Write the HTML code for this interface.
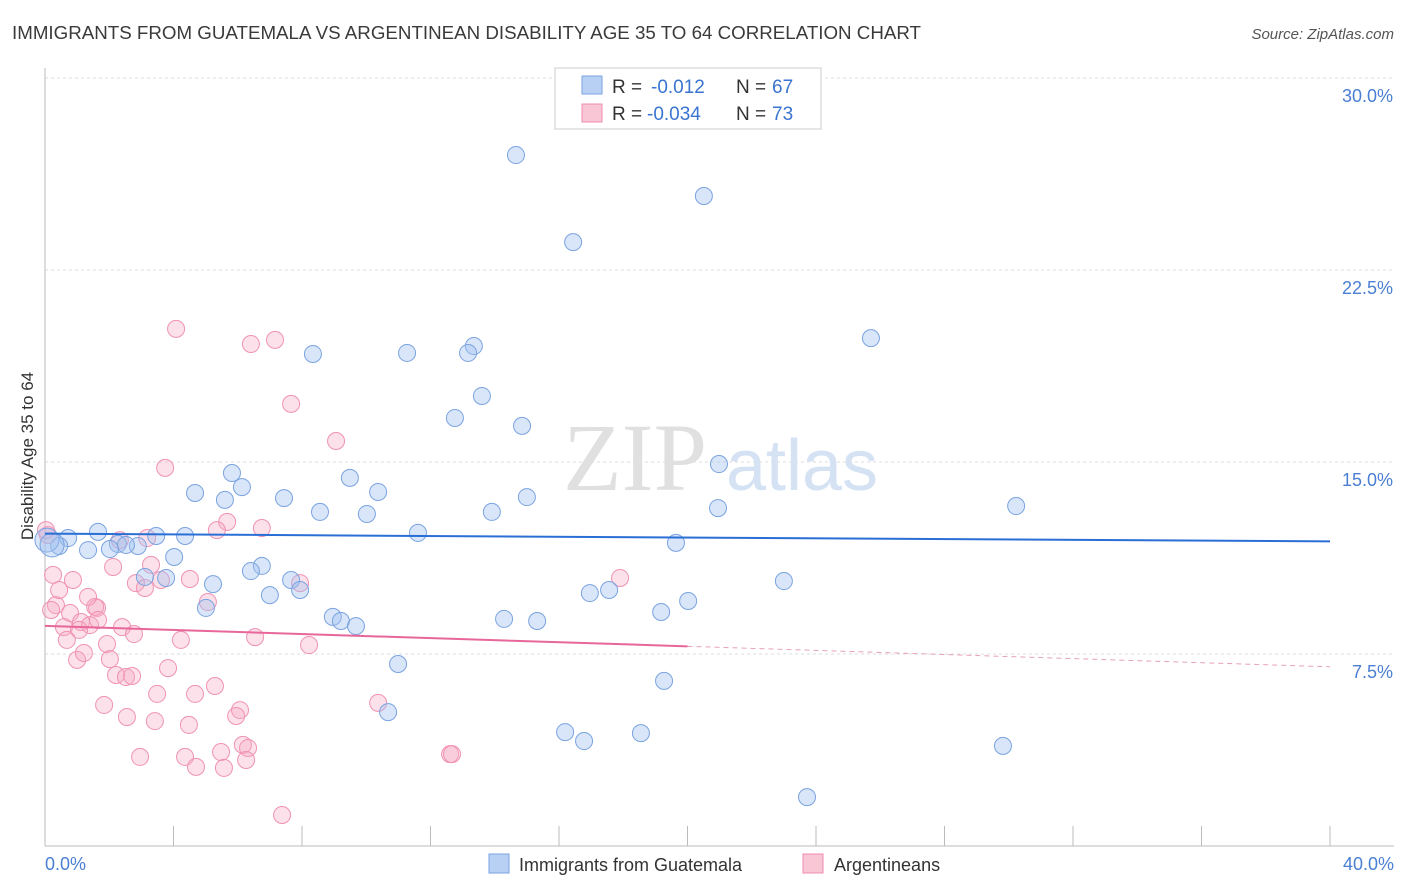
<!DOCTYPE html>
<html><head><meta charset="utf-8"><style>
body{margin:0;background:#fff;font-family:"Liberation Sans",sans-serif}
svg{display:block}
</style></head><body>
<svg id="chart" width="1406" height="892" viewBox="0 0 1406 892">
<text x="12" y="39" font-size="18" fill="#3a3a3a" textLength="909" lengthAdjust="spacingAndGlyphs">IMMIGRANTS FROM GUATEMALA VS ARGENTINEAN DISABILITY AGE 35 TO 64 CORRELATION CHART</text>
<text x="1394" y="39" font-size="15" fill="#555" text-anchor="end" font-style="italic">Source: ZipAtlas.com</text>
<g id="grid"></g>
<g><text x="635" y="490" font-size="96" fill="#e0e0e0" font-family="Liberation Serif,serif" text-anchor="middle">ZIP</text><text x="802" y="490" font-size="72" fill="#d4e2f4" text-anchor="middle">atlas</text></g>
<line x1="45" y1="846" x2="1394" y2="846" stroke="#bbb"/>
<line x1="45" y1="68" x2="45" y2="846" stroke="#bbb"/>
<text transform="translate(33,456) rotate(-90)" font-size="17" fill="#333" text-anchor="middle">Disability Age 35 to 64</text>
<text x="45" y="870" font-size="18" fill="#4a7fd4">0.0%</text>
<text x="1394" y="870" font-size="18" fill="#4a7fd4" text-anchor="end">40.0%</text>
<g id="pts"></g>
<g id="trends"></g>
<g>
<rect x="555" y="68" width="266" height="61" fill="#fff" stroke="#ccc"/>
<rect x="582" y="76" width="20" height="18" fill="#b8d0f4" stroke="#7aa3e0"/>
<rect x="582" y="104" width="20" height="18" fill="#f9c6d6" stroke="#f08cb0"/>
<text x="612" y="93" font-size="19" fill="#333">R = </text><text x="651" y="93" font-size="19" fill="#3a74d0">-0.012</text>
<text x="736" y="93" font-size="19" fill="#333">N = </text><text x="772" y="93" font-size="19" fill="#3a74d0">67</text>
<text x="612" y="120" font-size="19" fill="#333">R = </text><text x="647" y="120" font-size="19" fill="#3a74d0">-0.034</text>
<text x="736" y="120" font-size="19" fill="#333">N = </text><text x="772" y="120" font-size="19" fill="#3a74d0">73</text>
</g>
<g>
<rect x="489" y="854" width="20" height="19" fill="#b8d0f4" stroke="#7aa3e0"/>
<text x="519" y="871" font-size="18" fill="#333">Immigrants from Guatemala</text>
<rect x="803" y="854" width="20" height="19" fill="#f9c6d6" stroke="#f08cb0"/>
<text x="834" y="871" font-size="18" fill="#333">Argentineans</text>
</g>
</svg>
<script>
const yTicks=[7.5,15,22.5,30];
const xTicks=[0,4,8,12,16,20,24,28,32,36,40];
const bluePx=[[516,155],[704,196],[573,242],[871,338],[474,346],[468,353],[407,353],[313,354],[482,396],[455,418],[522,426],[719,464],[232,473],[350,478],[242,487],[195,493],[378,492],[284,498],[225,500],[527,497],[1016,506],[320,512],[492,512],[718,508],[367,514],[98,532],[185,536],[156,536],[418,533],[68,538],[676,543],[118,544],[138,546],[126,545],[110,549],[59,546],[88,550],[174,557],[262,566],[251,571],[145,577],[166,578],[291,580],[300,590],[213,584],[784,581],[270,595],[609,590],[590,593],[688,601],[661,612],[206,608],[333,617],[341,621],[356,626],[504,619],[537,621],[398,664],[664,681],[388,712],[565,732],[584,741],[641,733],[1003,746],[807,797],[47,540],[52,545]];
const pinkPx=[[176,329],[251,344],[275,340],[291,404],[336,441],[165,468],[227,522],[217,530],[262,528],[147,538],[120,540],[48,535],[53,575],[113,567],[151,565],[136,583],[145,588],[161,580],[190,579],[300,583],[56,605],[97,608],[208,602],[59,590],[95,607],[70,613],[81,622],[64,627],[90,625],[98,620],[79,630],[122,627],[67,640],[107,644],[134,634],[181,640],[255,637],[309,645],[77,660],[84,653],[110,659],[168,668],[116,675],[126,677],[132,676],[195,694],[157,694],[215,686],[104,705],[240,710],[236,716],[127,717],[155,721],[189,725],[378,703],[243,745],[248,748],[221,752],[246,760],[140,757],[185,757],[196,767],[224,768],[450,754],[452,754],[282,815],[620,578],[73,580],[51,610],[88,597],[46,530]];
const blueX=bluePx.map(p=>+((p[0]-45)/32.125).toFixed(2));
const blueY=bluePx.map(p=>+((846-p[1])/25.6).toFixed(2));
const pinkX=pinkPx.map(p=>+((p[0]-45)/32.125).toFixed(2));
const pinkY=pinkPx.map(p=>+((846-p[1])/25.6).toFixed(2));
const blueTrend=[12.2,11.9];
const pinkTrend=[8.6,7.8,7.0];
const X=v=>45+v*32.125, Y=v=>846-v*25.6;
const NS="http://www.w3.org/2000/svg";
function mk(t,a,p){const e=document.createElementNS(NS,t);for(const k in a)e.setAttribute(k,a[k]);p.appendChild(e);return e;}
const g=document.getElementById('grid');
yTicks.forEach(v=>{
const l=mk('line',{x1:45,x2:1394,y1:Y(v),y2:Y(v),stroke:'#ddd','stroke-dasharray':'3,3'},g);


const t=mk('text',{x:1393,y:Y(v)+24,'font-size':18,fill:'#4a7fd4','text-anchor':'end'},g);
t.textContent=v.toFixed(1)+'%';


});
xTicks.forEach(v=>{
const l=mk('line',{x1:X(v),x2:X(v),y1:826,y2:846,stroke:'#bbb'},g);


});
const pg=document.getElementById('pts');
pinkX.forEach((x,i)=>{
const c=mk('circle',{cx:X(x),cy:Y(pinkY[i]),r:8.5,fill:'rgba(246,168,196,0.35)',stroke:'#f092b4','stroke-width':1},pg);


});
blueX.forEach((x,i)=>{
const c=mk('circle',{cx:X(x),cy:Y(blueY[i]),r:(i>=blueX.length-2?12:8.5),fill:'rgba(160,192,240,0.4)',stroke:'#7aa3e0','stroke-width':1},pg);


});
const tg=document.getElementById('trends');
let l1=mk('line',{x1:X(0),y1:Y(blueTrend[0]),x2:X(40),y2:Y(blueTrend[1]),stroke:'#2a6fd6','stroke-width':2},tg);


let l2=mk('line',{x1:X(0),y1:Y(pinkTrend[0]),x2:X(20),y2:Y(pinkTrend[1]),stroke:'#e8679a','stroke-width':2},tg);


let l3=mk('line',{x1:X(20),y1:Y(pinkTrend[1]),x2:X(40),y2:Y(pinkTrend[2]),stroke:'#e8a0bc','stroke-width':1,'stroke-dasharray':'5,4'},tg);


</script>
</body></html>
